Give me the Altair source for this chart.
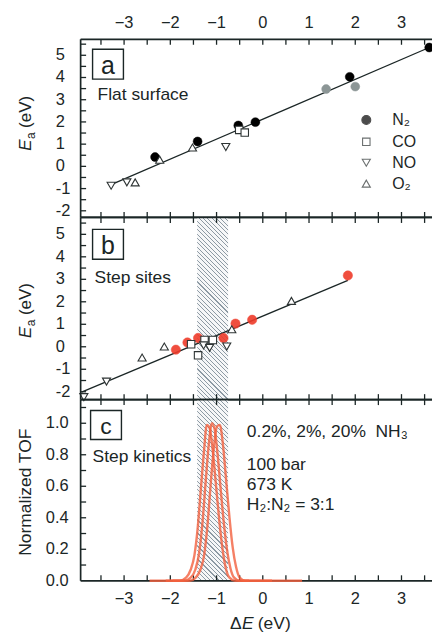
import altair as alt
import pandas as pd

# ---------------- data ----------------
# Panel a : flat surface
a_n2_x = [-2.33, -1.41, -0.53, -0.16, 1.88, 3.60]
a_n2_y = [0.42, 1.12, 1.84, 1.99, 4.03, 5.35]
a_gray_x = [1.37, 2.00]
a_gray_y = [3.48, 3.59]
a_co_x = [-0.51, -0.39]
a_co_y = [1.64, 1.52]
a_no_x = [-3.28, -2.94, -0.80]
a_no_y = [-0.87, -0.72, 0.87]
a_o2_x = [-2.76, -2.23, -1.52]
a_o2_y = [-0.72, 0.30, 0.85]
a_fit_x = [-3.28, 3.60]
a_fit_y = [-0.82, 5.35]

# Panel b : step sites
b_n2_x = [-1.88, -1.63, -1.40, -0.85, -0.59, -0.23, 1.84]
b_n2_y = [-0.13, 0.19, 0.39, 0.39, 1.03, 1.20, 3.17]
b_co_x = [-1.55, -1.40, -1.26, -1.08]
b_co_y = [0.11, -0.38, 0.30, 0.30]
b_no_x = [-3.87, -3.38, -1.28, -1.15, -0.78]
b_no_y = [-2.24, -1.55, 0.06, -0.05, 0.01]
b_o2_x = [-2.61, -2.13, -0.67, 0.62]
b_o2_y = [-0.48, 0.01, 0.78, 2.04]
b_fit_x = [-3.92, 1.84]
b_fit_y = [-2.02, 2.95]

band_x = [-1.42, -0.75]

# Panel c : step kinetics (normalized TOF curves)
c1_x = [-2.45, -1.80, -1.66, -1.56, -1.48, -1.41, -1.34, -1.27, -1.21, -1.15, -1.08, -1.01, -0.94, -0.87, -0.80, -0.72, -0.60, -0.30]
c1_y = [0.00, 0.00, 0.02, 0.07, 0.16, 0.33, 0.58, 0.83, 0.99, 0.97, 0.82, 0.60, 0.38, 0.20, 0.08, 0.02, 0.00, 0.00]
c2_x = [-2.10, -1.70, -1.56, -1.46, -1.38, -1.31, -1.24, -1.17, -1.10, -1.04, -0.98, -0.91, -0.84, -0.77, -0.70, -0.62, -0.50, 0.20]
c2_y = [0.00, 0.00, 0.02, 0.07, 0.17, 0.35, 0.61, 0.86, 1.00, 0.96, 0.81, 0.58, 0.36, 0.19, 0.08, 0.02, 0.00, 0.00]
c3_x = [-1.95, -1.58, -1.45, -1.35, -1.27, -1.20, -1.13, -1.06, -0.99, -0.93, -0.86, -0.79, -0.72, -0.65, -0.58, -0.50, -0.38, 0.85]
c3_y = [0.00, 0.00, 0.02, 0.07, 0.16, 0.34, 0.60, 0.84, 0.98, 0.99, 0.86, 0.63, 0.40, 0.21, 0.09, 0.02, 0.00, 0.00]

x_ticks = [-3.5, -3.0, -2.5, -2.0, -1.5, -1.0, -0.5, 0.0, 0.5, 1.0, 1.5, 2.0, 2.5, 3.0, 3.5]
x_labels = [-3, -2, -1, 0, 1, 2, 3]
y_ticks_ab = [-2.0, -1.5, -1.0, -0.5, 0.0, 0.5, 1.0, 1.5, 2.0, 2.5, 3.0, 3.5, 4.0, 4.5, 5.0, 5.5]
y_labels_ab = [-2, -1, 0, 1, 2, 3, 4, 5]
y_ticks_c = [0.1, 0.2, 0.3, 0.4, 0.5, 0.6, 0.7, 0.8, 0.9, 1.0, 1.1]
y_labels_c = [0.0, 0.2, 0.4, 0.6, 0.8, 1.0]

# ---------------- layout / style ----------------
W = 353
HA, HB, HC = 179, 183, 182
XDOM = [-3.94, 3.66]
YDOM_A = [-2.3, 5.72]
YDOM_B = [-2.35, 5.75]
YDOM_C = [0.0, 1.15]
AX = "#1b2626"
FONT = "Liberation Sans"
RED = "#ef3b2a"
CURVE = "#f2603f"
OPEN = "#2e3434"
ONE = alt.Data(values=[{"k": 0}])

S_CIRC, S_SQ, S_TRI, S_RED = 80, 56, 66, 88


def X(field):
    return alt.X(field, type="quantitative",
                 scale=alt.Scale(domain=XDOM, nice=False, zero=False), axis=None)


def Y(field, dom):
    return alt.Y(field, type="quantitative",
                 scale=alt.Scale(domain=dom, nice=False, zero=False), axis=None)


def df(xv, yv):
    return pd.DataFrame({"x": xv, "y": yv})


def pts(xv, yv, dom, shape, fill, stroke, size, sw=1.0, opacity=1.0, clip=False):
    return alt.Chart(df(xv, yv)).mark_point(
        shape=shape, filled=True, fill=fill, stroke=stroke, strokeWidth=sw,
        size=size, opacity=opacity, clip=clip
    ).encode(x=X("x"), y=Y("y", dom))


def fit(xv, yv, dom):
    return alt.Chart(df(xv, yv)).mark_line(color=AX, strokeWidth=1.3).encode(
        x=X("x"), y=Y("y", dom))


def txt(s, x, y, size=17, align="left", baseline="alphabetic", style="normal", angle=0, color=AX):
    kw = dict(text=s, align=align, baseline=baseline, fontSize=size, font=FONT,
              fontStyle=style, color=color)
    if angle:
        kw["angle"] = angle
    return alt.Chart(ONE).mark_text(**kw).encode(x=alt.value(x), y=alt.value(y))


def sym(shape, x, y, fill, stroke, size):
    return alt.Chart(ONE).mark_point(shape=shape, filled=True, fill=fill, stroke=stroke,
                                     strokeWidth=1.1, size=size).encode(
        x=alt.value(x), y=alt.value(y))


def label_box(letter, x0, x1, y0, y1, size, base):
    box = alt.Chart(ONE).mark_rect(fill="white", stroke=AX, strokeWidth=1.4).encode(
        x=alt.value(x0), x2=alt.value(x1), y=alt.value(y0), y2=alt.value(y1))
    return [box, txt(letter, (x0 + x1) / 2, base, size=size, align="center")]


def xlabels(ypix, baseline):
    d = pd.DataFrame({"v": x_labels,
                      "lab": [str(v).replace("-", "\u2212") for v in x_labels]})
    return alt.Chart(d).mark_text(fontSize=16.5, font=FONT, color=AX, baseline=baseline,
                                  align="center").encode(
        x=X("v"), y=alt.value(ypix), text="lab:N")


def ylabels(vals, labs, dom, xpix, align):
    d = pd.DataFrame({"v": vals, "lab": labs})
    return alt.Chart(d).mark_text(fontSize=16.5, font=FONT, color=AX, baseline="middle",
                                  align=align).encode(
        y=Y("v", dom), x=alt.value(xpix), text="lab:N")


def frame(h, dom, yt):
    xt = pd.DataFrame({"t": x_ticks})
    ytd = pd.DataFrame({"t": yt})
    L = []
    L.append(alt.Chart(xt).mark_rule(color=AX, strokeWidth=1.3).encode(
        x=X("t"), y=alt.value(0), y2=alt.value(5.5)))
    L.append(alt.Chart(xt).mark_rule(color=AX, strokeWidth=1.3).encode(
        x=X("t"), y=alt.value(h - 5.5), y2=alt.value(h)))
    L.append(alt.Chart(ytd).mark_rule(color=AX, strokeWidth=1.3).encode(
        y=Y("t", dom), x=alt.value(0), x2=alt.value(5.5)))
    L.append(alt.Chart(ONE).mark_rule(color=AX, strokeWidth=1.7).encode(
        x=alt.value(0), y=alt.value(0), y2=alt.value(h)))
    L.append(alt.Chart(ONE).mark_rule(color=AX, strokeWidth=1.7).encode(
        x=alt.value(0), x2=alt.value(W), y=alt.value(0)))
    L.append(alt.Chart(ONE).mark_rule(color=AX, strokeWidth=1.7).encode(
        x=alt.value(0), x2=alt.value(W), y=alt.value(h)))
    return L


def hatch(h):
    wb = (band_x[1] - band_x[0]) * W / (XDOM[1] - XDOM[0])
    c = (wb + h) / (wb ** 2 + h ** 2)
    n = int(round((wb + h) / 2 ** 0.5 / 3.1))
    stops = []
    line_c, bg_c = "#8d9aa4", "#f6f7f8"
    for i in range(n):
        a = i / n
        b = (i + 0.24) / n
        e = (i + 1) / n
        stops += [alt.GradientStop(offset=a, color=line_c),
                  alt.GradientStop(offset=b, color=line_c),
                  alt.GradientStop(offset=b, color=bg_c),
                  alt.GradientStop(offset=e, color=bg_c)]
    return alt.LinearGradient(gradient="linear", stops=stops,
                              x1=0, y1=1, x2=c * wb, y2=1 - c * h)


def band(h):
    d = pd.DataFrame({"x0": [band_x[0]], "x1": [band_x[1]]})
    return alt.Chart(d).mark_rect(fill=hatch(h)).encode(
        x=X("x0"), x2="x1", y=alt.value(0), y2=alt.value(h))


def ytitle_ea(y0):
    return [txt("E", -50, y0, size=17, style="italic", angle=270),
            txt("a", -45.5, y0 - 11.8, size=12, angle=270),
            txt("(eV)", -50, y0 - 23, size=17, angle=270)]


lab_ab = [str(v) for v in y_labels_ab]
lab_c = [f"{v:.1f}" for v in y_labels_c]

# ---------------- panel a ----------------
la = []
la += [fit(a_fit_x, a_fit_y, YDOM_A)]
la += [pts(a_gray_x, a_gray_y, YDOM_A, "circle", "#8c9696", "#8c9696", S_CIRC, sw=0.5)]
la += [pts(a_n2_x, a_n2_y, YDOM_A, "circle", "black", "black", S_CIRC, sw=0.5, clip=True)]
la += [pts(a_co_x, a_co_y, YDOM_A, "square", "white", OPEN, S_SQ, sw=1.1)]
la += [pts(a_no_x, a_no_y, YDOM_A, "triangle-down", "white", OPEN, S_TRI, sw=1.1)]
la += [pts(a_o2_x, a_o2_y, YDOM_A, "triangle-up", "white", OPEN, S_TRI, sw=1.1)]
la += frame(HA, YDOM_A, y_ticks_ab)
la += [xlabels(-8, "bottom"), ylabels(y_labels_ab, lab_ab, YDOM_A, -25, "left")]
la += label_box("a", 12, 43, 10, 40, 25, 34.5)
la += [txt("Flat surface", 17, 61, size=17.5)]
la += [sym("circle", 287, 81, "black", "black", S_CIRC),
       sym("square", 287, 103, "white", OPEN, S_SQ),
       sym("triangle-down", 287, 124, "white", OPEN, S_TRI),
       sym("triangle-up", 287, 145, "white", OPEN, S_TRI)]
la += [txt("N\u2082", 313, 81, size=16, baseline="middle"),
       txt("CO", 313, 103, size=16, baseline="middle"),
       txt("NO", 313, 124, size=16, baseline="middle"),
       txt("O\u2082", 313, 145, size=16, baseline="middle")]
la += ytitle_ea(112)
la += [alt.Chart(ONE).mark_rule(color="white", strokeWidth=0.1).encode(
    x=alt.value(-80), x2=alt.value(-79.9), y=alt.value(-37))]
pa = alt.layer(*la).properties(width=W, height=HA)

# ---------------- panel b ----------------
lb = []
lb += [band(HB)]
lb += [fit(b_fit_x, b_fit_y, YDOM_B)]
lb += [pts(b_n2_x, b_n2_y, YDOM_B, "circle", RED, RED, S_RED, sw=0.5, opacity=0.9)]
lb += [pts(b_co_x, b_co_y, YDOM_B, "square", "white", OPEN, S_SQ, sw=1.1)]
lb += [pts(b_no_x, b_no_y, YDOM_B, "triangle-down", "white", OPEN, S_TRI, sw=1.1)]
lb += [pts(b_o2_x, b_o2_y, YDOM_B, "triangle-up", "white", OPEN, S_TRI, sw=1.1)]
lb += frame(HB, YDOM_B, y_ticks_ab)
lb += [ylabels(y_labels_ab, lab_ab, YDOM_B, -25, "left")]
lb += label_box("b", 12, 43, 12, 42, 25, 36.5)
lb += [txt("Step sites", 14, 66, size=17.5)]
lb += ytitle_ea(121)
pb = alt.layer(*lb).properties(width=W, height=HB)

# ---------------- panel c ----------------
curves = pd.concat([
    pd.DataFrame({"x": c1_x, "y": c1_y, "s": "0.2%"}),
    pd.DataFrame({"x": c2_x, "y": c2_y, "s": "2%"}),
    pd.DataFrame({"x": c3_x, "y": c3_y, "s": "20%"}),
])
lc = []
lc += [band(HC)]
lc += frame(HC, YDOM_C, y_ticks_c)
lc += [alt.Chart(curves).mark_line(color=CURVE, strokeWidth=2.4, opacity=0.8,
                                   interpolate="monotone").encode(
    x=X("x"), y=Y("y", YDOM_C), detail="s:N")]
lc += [xlabels(HC + 10, "top"), ylabels(y_labels_c, lab_c, YDOM_C, -12, "right")]
lc += label_box("c", 10, 41, 11, 40, 23, 34.3)
lc += [txt("Step kinetics", 12, 63, size=17.5)]
lc += [txt("0.2%, 2%, 20%\u00a0\u00a0NH\u2083", 167, 38, size=17.5),
       txt("100 bar", 167, 71, size=17.5),
       txt("673 K", 167, 91, size=17.5),
       txt("H\u2082:N\u2082 = 3:1", 167, 111, size=17.5)]
lc += [txt("Normalized TOF", -50, 93, size=17.5, align="center", angle=270)]
lc += [txt("\u0394", 150, HC + 48, size=17.5),
       txt("E", 162, HC + 48, size=17.5, style="italic"),
       txt("(eV)", 178, HC + 48, size=17.5)]
lc += [alt.Chart(ONE).mark_rule(color="white", strokeWidth=0.1).encode(
    x=alt.value(-80), x2=alt.value(-79.9), y=alt.value(HC + 52))]
pc = alt.layer(*lc).properties(width=W, height=HC)

chart = alt.vconcat(pa, pb, pc, spacing=0, bounds="flush").resolve_scale(
    x="independent", y="independent"
).properties(padding=0, background="white").configure_view(stroke=None)

chart.save("out.html", embed_options={"renderer": "svg", "actions": False})
